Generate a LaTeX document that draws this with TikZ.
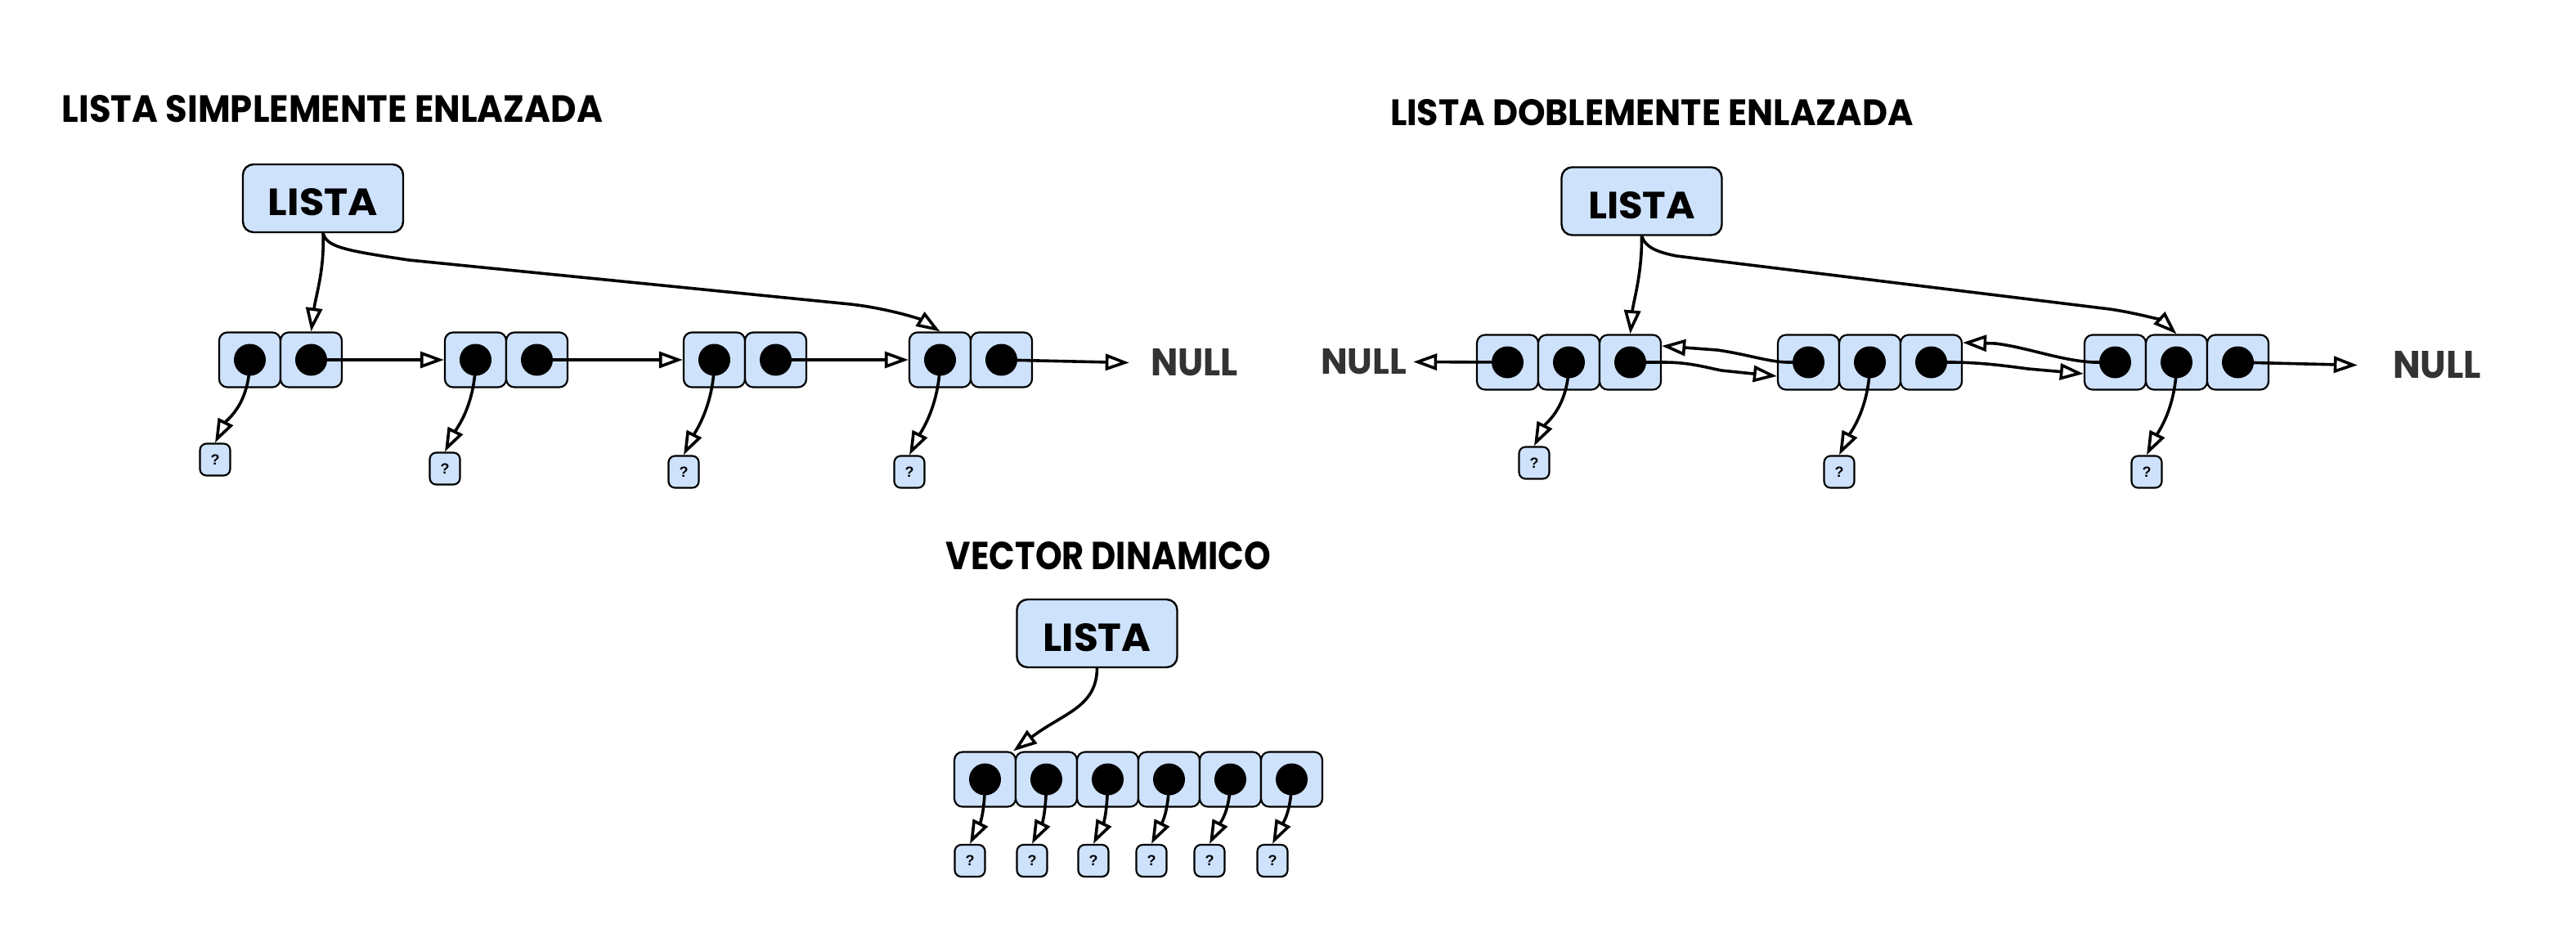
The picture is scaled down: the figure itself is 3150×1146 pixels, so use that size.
\documentclass[tikz,border=0pt]{standalone}
\usepackage{fontspec}
\usepackage{graphicx}
\setmainfont{Poppins}
\newfontfamily\qfont{Liberation Sans}
\usetikzlibrary{arrows.meta,calc}
\definecolor{cellfill}{RGB}{206,226,252}
\definecolor{nullgray}{RGB}{51,51,51}
\begin{document}
\begin{tikzpicture}[x=1pt,y=-1pt,
  cell/.style={draw=black, fill=cellfill, line width=2.2pt, rounded corners=10pt, minimum width=75pt, minimum height=67pt, inner sep=0pt},
  dot/.style={circle, fill=black, minimum size=39pt, inner sep=0pt},
  headbox/.style={draw=black, fill=cellfill, line width=2.4pt, rounded corners=13pt, minimum width=196pt, minimum height=83pt, inner sep=0pt},
  qbox/.style={draw=black, fill=cellfill, line width=2.2pt, rounded corners=8pt, minimum width=37pt, minimum height=39pt, inner sep=0pt, font=\qfont\bfseries\fontsize{18}{18}\selectfont},
  link/.style={line width=3.6pt, -{Triangle[open, length=29pt, width=20pt]}},
  ttl/.style={inner sep=0pt},
  nulltxt/.style={inner sep=0pt, text=nullgray},
  ]
\fill[white] (0,0) rectangle (3150,1146);
\useasboundingbox (0,0) rectangle (3150,1146);

% ---------- titles ----------
\node[ttl] (t1) at (406.5,133.5) {\resizebox{661pt}{33pt}{\bfseries LISTA SIMPLEMENTE ENLAZADA}};
\node[ttl] (t2) at (2020,137.5) {\resizebox{640pt}{32pt}{\bfseries LISTA DOBLEMENTE ENLAZADA}};
\node[ttl] (t3) at (1355.5,680) {\resizebox{397pt}{34pt}{\bfseries VECTOR DINAMICO}};

% ---------- lista simplemente enlazada ----------
\node[headbox] (l1) at (395,242.5) {\resizebox{134pt}{33pt}{\bfseries LISTA}\rule{0pt}{43pt}};
\foreach \i/\x in {1/268,2/544,3/836,4/1112}{
  \node[cell] (s\i-a) at (\x+37.5,440) {};
  \node[cell] (s\i-b) at (\x+112.5,440) {};
  \node[dot] (s\i-ad) at (s\i-a.center) {};
  \node[dot] (s\i-bd) at (s\i-b.center) {};
}
\node[qbox] (q1) at (263,562) {?};
\node[qbox] (q2) at (544,573) {?};
\node[qbox] (q3) at (836,577) {?};
\node[qbox] (q4) at (1112,577) {?};
\node[nulltxt] (null1) at (1460.5,443.5) {\resizebox{107pt}{33pt}{\bfseries NULL}};

\draw[link] (l1.south) .. controls (397,330) and (386,362) .. (s1-b.north);
\draw[link] (l1.south) .. controls (400,302) and (420,306) .. (500,318) -- (1040,372) .. controls (1085,377) and (1125,390) .. (s4-a.north);
\draw[link] (s1-bd.center) -- (s2-a.west);
\draw[link] (s2-bd.center) -- (s3-a.west);
\draw[link] (s3-bd.center) -- (s4-a.west);
\draw[link] (s4-bd.center) -- ([xshift=-26pt]null1.west);
\foreach \i in {1,...,4}{
  \draw[link] (s\i-ad.center) .. controls ($(s\i-ad.center)+(0,55)$) and ($(q\i.north)+(14,-28)$) .. (q\i.north);
}

% ---------- lista doblemente enlazada ----------
\node[headbox] (l2) at (2007.5,246) {\resizebox{131pt}{33pt}{\bfseries LISTA}\rule{0pt}{43pt}};
\foreach \i/\x in {1/1806,2/2174,3/2549}{
  \node[cell] (d\i-a) at (\x+37.5,443) {};
  \node[cell] (d\i-b) at (\x+112.5,443) {};
  \node[cell] (d\i-c) at (\x+187.5,443) {};
  \node[dot] (d\i-ad) at (d\i-a.center) {};
  \node[dot] (d\i-bd) at (d\i-b.center) {};
  \node[dot] (d\i-cd) at (d\i-c.center) {};
}
\node[qbox] (r1) at (1876,566) {?};
\node[qbox] (r2) at (2249,577) {?};
\node[qbox] (r3) at (2625,577) {?};
\node[nulltxt] (nullL) at (1667.5,442.5) {\resizebox{105pt}{31pt}{\bfseries NULL}};
\node[nulltxt] (nullR) at (2980,446.5) {\resizebox{108pt}{33pt}{\bfseries NULL}};

\draw[link] (l2.south) .. controls (2008,335) and (1997,370) .. (d1-c.north);
\draw[link] (l2.south) .. controls (2012,302) and (2025,308) .. (2050,313) -- (2580,378) .. controls (2620,384) and (2645,393) .. (d3-b.north);
\draw[link] (d1-ad.center) -- ([xshift=8pt]nullL.east);
\draw[link] (d3-cd.center) -- ([xshift=-43pt]nullR.west);
\draw[link] (d1-cd.center) -- (2035,443) .. controls (2065,443) and (2085,449) .. (2105,453) -- ([yshift=-17pt]d2-a.west);
\draw[link] (d2-ad.center) -- (2185,443) .. controls (2160,442) and (2140,434) .. (2100,428) -- ([yshift=20pt]d1-c.east);
\draw[link] (d2-cd.center) -- (2385,443) .. controls (2420,443) and (2450,447) .. (2480,451) -- ([yshift=-14pt]d3-a.west);
\draw[link] (d3-ad.center) -- (2560,443) .. controls (2520,441) and (2480,425) .. (2440,420) -- ([yshift=24pt]d2-c.east);
\foreach \i in {1,2,3}{
  \draw[link] (d\i-bd.center) .. controls ($(d\i-bd.center)+(0,55)$) and ($(r\i.north)+(14,-28)$) .. (r\i.north);
}

% ---------- vector dinamico ----------
\node[headbox] (l3) at (1341.5,774.5) {\resizebox{132pt}{34pt}{\bfseries LISTA}\rule{0pt}{44pt}};
\foreach \i/\qx in {1/1186,2/1262,3/1337,4/1408,5/1479,6/1556}{
  \node[cell] (v\i) at (1167+75*\i-37.5,953) {};
  \node[dot] (v\i d) at (v\i.center) {};
  \node[qbox] (vq\i) at (\qx,1052.5) {?};
  \draw[link] (v\i d.center) .. controls ($(v\i d.center)+(0,40)$) and ($(vq\i.north)+(12,-24)$) .. (vq\i.north);
}
\draw[link] (l3.south) .. controls (1341,865) and (1300,872) .. ([xshift=-4pt]v1.north east);
\end{tikzpicture}
\end{document}
